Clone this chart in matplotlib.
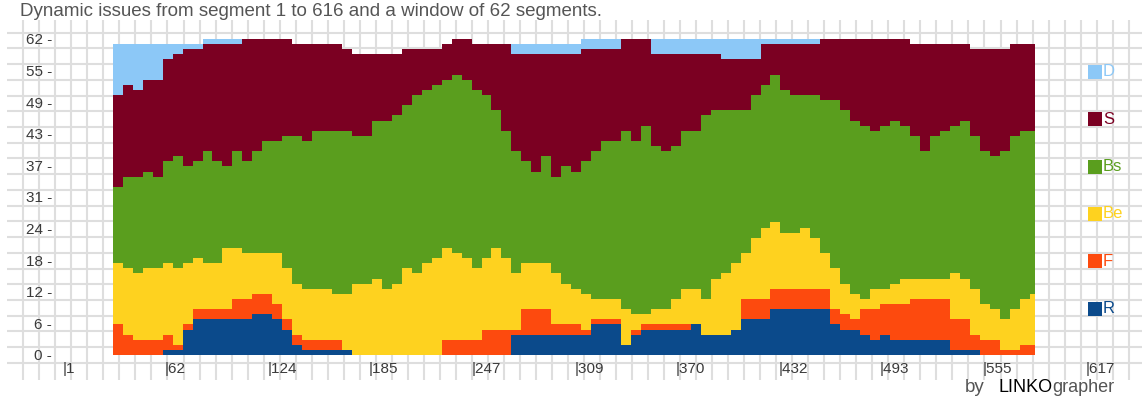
import numpy as np
import matplotlib
matplotlib.use("Agg")
import matplotlib.pyplot as plt
from matplotlib.patches import Rectangle

plt.rcParams['font.family'] = ['Liberation Sans', 'DejaVu Sans']

# segment positions of the window (step chart, value holds until next position)
segments = list(range(31, 584, 6)) + [586]

# cumulative tops of each issue band
r_top = [0, 0, 0, 0, 0, 1, 1, 5, 7, 7,
         7, 7, 7, 7, 8, 8, 7, 5, 2, 1,
         1, 1, 1, 1, 0, 0, 0, 0, 0, 0,
         0, 0, 0, 0, 0, 0, 0, 0, 0, 0,
         4, 4, 4, 4, 4, 4, 4, 4, 6, 6,
         6, 2, 4, 5, 5, 5, 5, 5, 6, 4,
         4, 4, 5, 7, 7, 7, 9, 9, 9, 9,
         9, 9, 6, 5, 5, 4, 3, 4, 3, 3,
         3, 3, 3, 3, 1, 1, 1, 0, 0, 0,
         0, 0, 0, 0]
f_top = [6, 4, 3, 3, 3, 4, 2, 6, 9, 9,
         9, 9, 11, 11, 12, 12, 10, 7, 4, 3,
         3, 3, 3, 1, 0, 0, 0, 0, 0, 0,
         0, 0, 0, 3, 3, 3, 3, 5, 5, 5,
         5, 9, 9, 9, 6, 6, 6, 5, 7, 7,
         7, 2, 5, 6, 6, 6, 6, 6, 6, 4,
         4, 4, 5, 11, 11, 11, 13, 13, 13, 13,
         13, 13, 9, 8, 7, 9, 9, 10, 10, 10,
         11, 11, 11, 11, 7, 7, 4, 3, 3, 1,
         1, 2, 2, 2]
be_top = [18, 17, 16, 17, 17, 18, 17, 18, 19, 18,
          18, 21, 21, 20, 20, 20, 20, 17, 14, 13,
          13, 13, 12, 12, 14, 14, 15, 13, 14, 17,
          16, 18, 19, 21, 20, 19, 17, 19, 21, 19,
          16, 18, 18, 18, 16, 14, 13, 12, 11, 11,
          11, 9, 8, 8, 9, 9, 11, 13, 13, 11,
          15, 16, 18, 20, 23, 25, 26, 24, 24, 25,
          23, 20, 17, 14, 12, 11, 13, 13, 14, 15,
          15, 15, 15, 15, 16, 15, 13, 10, 9, 7,
          9, 11, 12, 12]
bs_top = [33, 35, 35, 36, 35, 38, 39, 37, 38, 40,
          38, 37, 40, 38, 40, 42, 42, 43, 43, 42,
          44, 44, 44, 44, 43, 43, 46, 46, 47, 49,
          51, 52, 53, 54, 55, 54, 52, 51, 48, 44,
          40, 38, 36, 39, 35, 37, 36, 38, 40, 42,
          42, 44, 42, 45, 41, 40, 41, 44, 44, 47,
          48, 48, 48, 48, 51, 53, 55, 52, 51, 51,
          51, 50, 50, 48, 46, 45, 44, 45, 46, 45,
          43, 40, 43, 44, 45, 46, 43, 40, 39, 40,
          43, 44, 44, 44]
s_top = [51, 53, 52, 54, 54, 58, 59, 60, 60, 61,
         61, 61, 61, 62, 62, 62, 62, 62, 61, 61,
         61, 61, 61, 60, 59, 59, 59, 59, 59, 60,
         60, 60, 60, 61, 62, 62, 61, 61, 61, 61,
         59, 59, 59, 59, 59, 59, 59, 60, 60, 60,
         60, 62, 62, 62, 59, 59, 59, 59, 59, 59,
         59, 58, 58, 58, 58, 61, 61, 61, 61, 61,
         61, 62, 62, 62, 62, 62, 62, 62, 62, 62,
         61, 61, 61, 61, 61, 61, 60, 60, 60, 60,
         61, 61, 61, 61]
d_top = [61, 61, 61, 61, 61, 61, 61, 61, 61, 62,
         62, 62, 62, 62, 62, 62, 62, 62, 61, 61,
         61, 61, 61, 60, 59, 59, 59, 59, 59, 60,
         60, 60, 60, 61, 62, 62, 61, 61, 61, 61,
         61, 61, 61, 61, 61, 61, 61, 62, 62, 62,
         62, 62, 62, 62, 62, 62, 62, 62, 62, 62,
         62, 62, 62, 62, 62, 62, 62, 62, 62, 62,
         62, 62, 62, 62, 62, 62, 62, 62, 62, 62,
         61, 61, 61, 61, 61, 61, 60, 60, 60, 60,
         61, 61, 61, 61]

issues = ['R', 'F', 'Be', 'Bs', 'S', 'D']
colors = ['#0b4a8b', '#fd4a0e', '#fed21f', '#5a9e1e', '#7b0022', '#8cc8f7']
y_ticks = [0, 6.2, 12.4, 18.6, 24.8, 31, 37.2, 43.4, 49.6, 55.8, 62]
y_labels = ['0', '6', '12', '18', '24', '31', '37', '43', '49', '55', '62']
x_ticks = [1, 62, 124, 185, 247, 309, 370, 432, 493, 555, 617]

W, H = 1142, 403
fig = plt.figure(figsize=(W / 100, H / 100), dpi=100)

# light squared paper behind everything
bg = fig.add_axes([0, 0, 1, 1], zorder=0)
bg.set_xlim(0, W)
bg.set_ylim(H, 0)
bg.axis('off')
bg.vlines(np.arange(23.3, W, 16.02), 20, 380, color='#dedede', lw=1.5)
bg.hlines(np.arange(32.6, 372, 15.73), 7, W, color='#dedede', lw=1.5)

ax = fig.add_axes([63 / W, 48 / H, 1023 / W, 316 / H], zorder=1)
ax.patch.set_alpha(0)
tops = [r_top, f_top, be_top, bs_top, s_top, d_top]
lower = [0] * len(segments)
for name, top, col in zip(issues, tops, colors):
    ax.fill_between(segments, lower, top, step='post', color=col, lw=0, antialiased=False)
    lower = top

ax.set_xlim(1, 617)
ax.set_ylim(0, 62)
for sp in ax.spines.values():
    sp.set_visible(False)
ax.set_yticks(y_ticks)
ax.set_yticklabels([l + ' -' for l in y_labels])
ax.set_xticks(x_ticks)
ax.set_xticklabels(['|' + str(t) for t in x_ticks])
plt.setp(ax.get_xticklabels(), ha='left')
ax.tick_params(axis='both', length=0, labelsize=11, colors='#3a3a3a')
ax.tick_params(axis='y', pad=8)
ax.tick_params(axis='x', pad=5)

fig.text(20 / W, 1 - 12 / H, 'Dynamic issues from segment 1 to 616 and a window of 62 segments.',
         fontsize=13.5, color='#555555', va='center', ha='left')

# legend on the right, top band first
for i, (name, col) in enumerate(zip(issues[::-1], colors[::-1])):
    yc = 72 + 47.3 * i
    fig.add_artist(Rectangle((1088 / W, 1 - (yc + 7) / H), 14 / W, 14 / H,
                             transform=fig.transFigure, color=col, lw=0))
    fig.text(1103 / W, 1 - yc / H, name, color=col, fontsize=12, va='center', ha='left')

fig.text(965 / W, 1 - 388 / H, 'by', fontsize=13.5, color='#555555', va='center', ha='left')
fig.text(998 / W, 1 - 388 / H, 'LINKO', fontsize=13, color='#000000', va='center', ha='left')
fig.text(1052 / W, 1 - 388 / H, 'grapher', fontsize=13, color='#555555', va='center', ha='left')

fig.savefig('out.png', dpi=100)
